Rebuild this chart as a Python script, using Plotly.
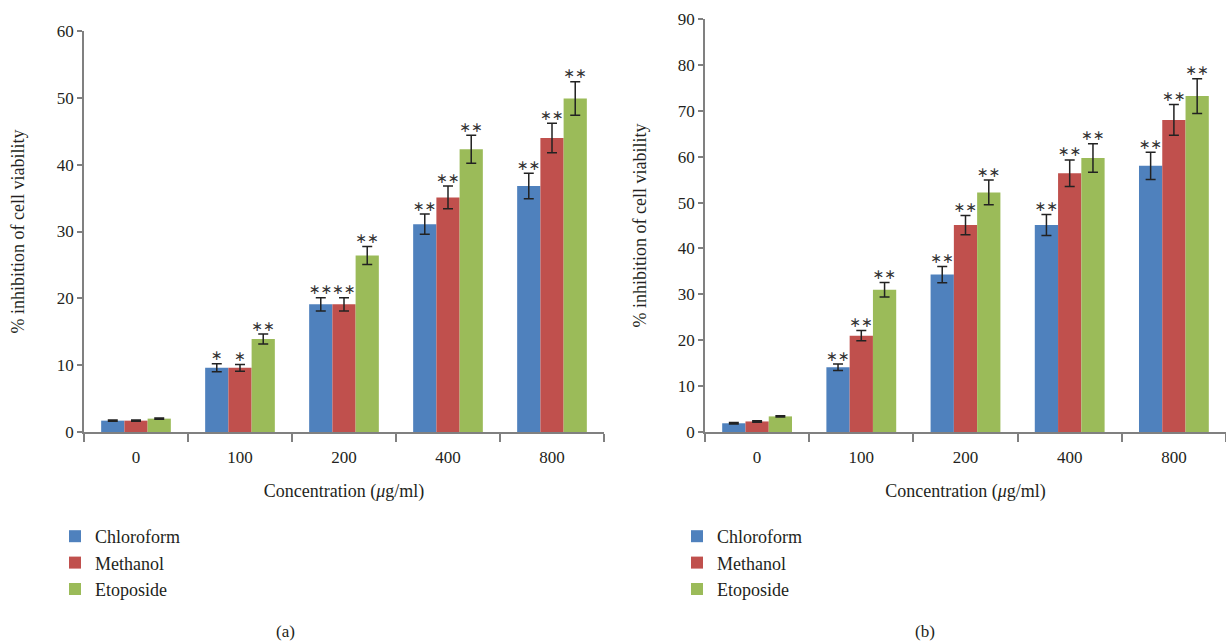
import plotly.graph_objects as go

categories = ["0", "100", "200", "400", "800"]
series_names = ["Chloroform", "Methanol", "Etoposide"]
colors = ["#4F81BD", "#C0504D", "#9BBB59"]

# Panel (a)
a_chloro = [1.7, 9.6, 19.1, 31.1, 36.8]
a_chloro_err = [0.1, 0.6, 1.0, 1.5, 1.9]
a_meth = [1.7, 9.6, 19.1, 35.1, 44.0]
a_meth_err = [0.1, 0.5, 1.0, 1.7, 2.2]
a_eto = [2.0, 13.9, 26.4, 42.3, 49.9]
a_eto_err = [0.1, 0.75, 1.35, 2.1, 2.5]
a_chloro_sig = ["", "*", "**", "**", "**"]
a_meth_sig = ["", "*", "**", "**", "**"]
a_eto_sig = ["", "**", "**", "**", "**"]

# Panel (b)
b_chloro = [1.9, 14.1, 34.3, 45.1, 58.0]
b_chloro_err = [0.15, 0.7, 1.75, 2.3, 2.95]
b_meth = [2.3, 21.0, 45.1, 56.4, 68.0]
b_meth_err = [0.15, 1.1, 2.1, 2.9, 3.35]
b_eto = [3.4, 31.0, 52.2, 59.7, 73.2]
b_eto_err = [0.15, 1.6, 2.7, 3.1, 3.8]
b_chloro_sig = ["", "**", "**", "**", "**"]
b_meth_sig = ["", "**", "**", "**", "**"]
b_eto_sig = ["", "**", "**", "**", "**"]

FONT = "Liberation Serif"
TXT = "#231f20"
AX = "#808080"

panels = [
    dict(vals=[a_chloro, a_meth, a_eto], errs=[a_chloro_err, a_meth_err, a_eto_err],
         sigs=[a_chloro_sig, a_meth_sig, a_eto_sig], xa="x", ya="y", legend="legend"),
    dict(vals=[b_chloro, b_meth, b_eto], errs=[b_chloro_err, b_meth_err, b_eto_err],
         sigs=[b_chloro_sig, b_meth_sig, b_eto_sig], xa="x2", ya="y2", legend="legend2"),
]

fig = go.Figure()
for p in panels:
    for i, name in enumerate(series_names):
        fig.add_trace(go.Bar(
            x=categories, y=p["vals"][i], name=name, marker_color=colors[i],
            marker_line_width=0, offsetgroup=str(i),
            error_y=dict(type="data", array=p["errs"][i], color="#222222", thickness=1.5, width=5),
            xaxis=p["xa"], yaxis=p["ya"], legend=p["legend"], showlegend=True,
        ))
    for i, name in enumerate(series_names):
        tops = [v + e for v, e in zip(p["vals"][i], p["errs"][i])]
        fig.add_trace(go.Scatter(
            x=categories, y=tops, mode="text",
            text=["∗" * len(s) for s in p["sigs"][i]],
            textposition="top center",
            textfont=dict(family="DejaVu Sans", size=14, color="#333333"),
            offsetgroup=str(i), xaxis=p["xa"], yaxis=p["ya"], showlegend=False,
            hoverinfo="skip",
        ))

H = 641.0
W = 1226.0
y_bottom = (H - 432) / H

xaxis_common = dict(
    type="category", showline=True, linecolor=AX, linewidth=1.5,
    ticks="outside", tickson="boundaries", ticklen=8, tickcolor=AX, tickwidth=1.5,
    ticklabelstandoff=9,
    tickfont=dict(family=FONT, size=17, color=TXT), showgrid=False, zeroline=False,
    automargin=False,
)
yaxis_common = dict(
    showline=True, linecolor=AX, linewidth=1.5, ticks="outside", ticklen=5,
    tickcolor=AX, tickwidth=1.5, tickfont=dict(family=FONT, size=17, color=TXT),
    showgrid=False, zeroline=False, automargin=False,
)

fig.update_layout(
    width=1226, height=641,
    margin=dict(l=0, r=0, t=0, b=0),
    paper_bgcolor="white", plot_bgcolor="white",
    barmode="group", bargap=0.33, bargroupgap=0,
    scattermode="group", scattergap=0.33,
    font=dict(family=FONT, color=TXT),
    xaxis=dict(xaxis_common, domain=[84 / W, 604 / W], anchor="y",
               title=dict(text="Concentration (<i>μ</i>g/ml)", font=dict(family=FONT, size=18, color=TXT), standoff=18)),
    yaxis=dict(yaxis_common, domain=[y_bottom, (H - 31) / H], anchor="x", range=[0, 60], dtick=10,
               title=dict(text="% inhibition of cell viability", font=dict(family=FONT, size=18, color=TXT), standoff=28)),
    xaxis2=dict(xaxis_common, domain=[705 / W, 1.0], anchor="y2",
                title=dict(text="Concentration (<i>μ</i>g/ml)", font=dict(family=FONT, size=18, color=TXT), standoff=18)),
    yaxis2=dict(yaxis_common, domain=[y_bottom, (H - 19) / H], anchor="x2", range=[0, 90], dtick=10,
                title=dict(text="% inhibition of cell viability", font=dict(family=FONT, size=18, color=TXT), standoff=27)),
    legend=dict(x=55 / W, y=(H - 518) / H, xanchor="left", yanchor="top",
                font=dict(family=FONT, size=18, color=TXT), bgcolor="rgba(0,0,0,0)"),
    legend2=dict(x=677 / W, y=(H - 518) / H, xanchor="left", yanchor="top",
                 font=dict(family=FONT, size=18, color=TXT), bgcolor="rgba(0,0,0,0)"),
    annotations=[
        dict(text="(a)", x=285 / W, y=(H - 631) / H, xref="paper", yref="paper",
             xanchor="center", yanchor="middle",
             showarrow=False, font=dict(family=FONT, size=17, color=TXT)),
        dict(text="(b)", x=925 / W, y=(H - 631) / H, xref="paper", yref="paper",
             xanchor="center", yanchor="middle",
             showarrow=False, font=dict(family=FONT, size=17, color=TXT)),
    ],
)

fig.write_html("out.html", config={"displayModeBar": False},
               post_script="document.body.style.margin='0';")
